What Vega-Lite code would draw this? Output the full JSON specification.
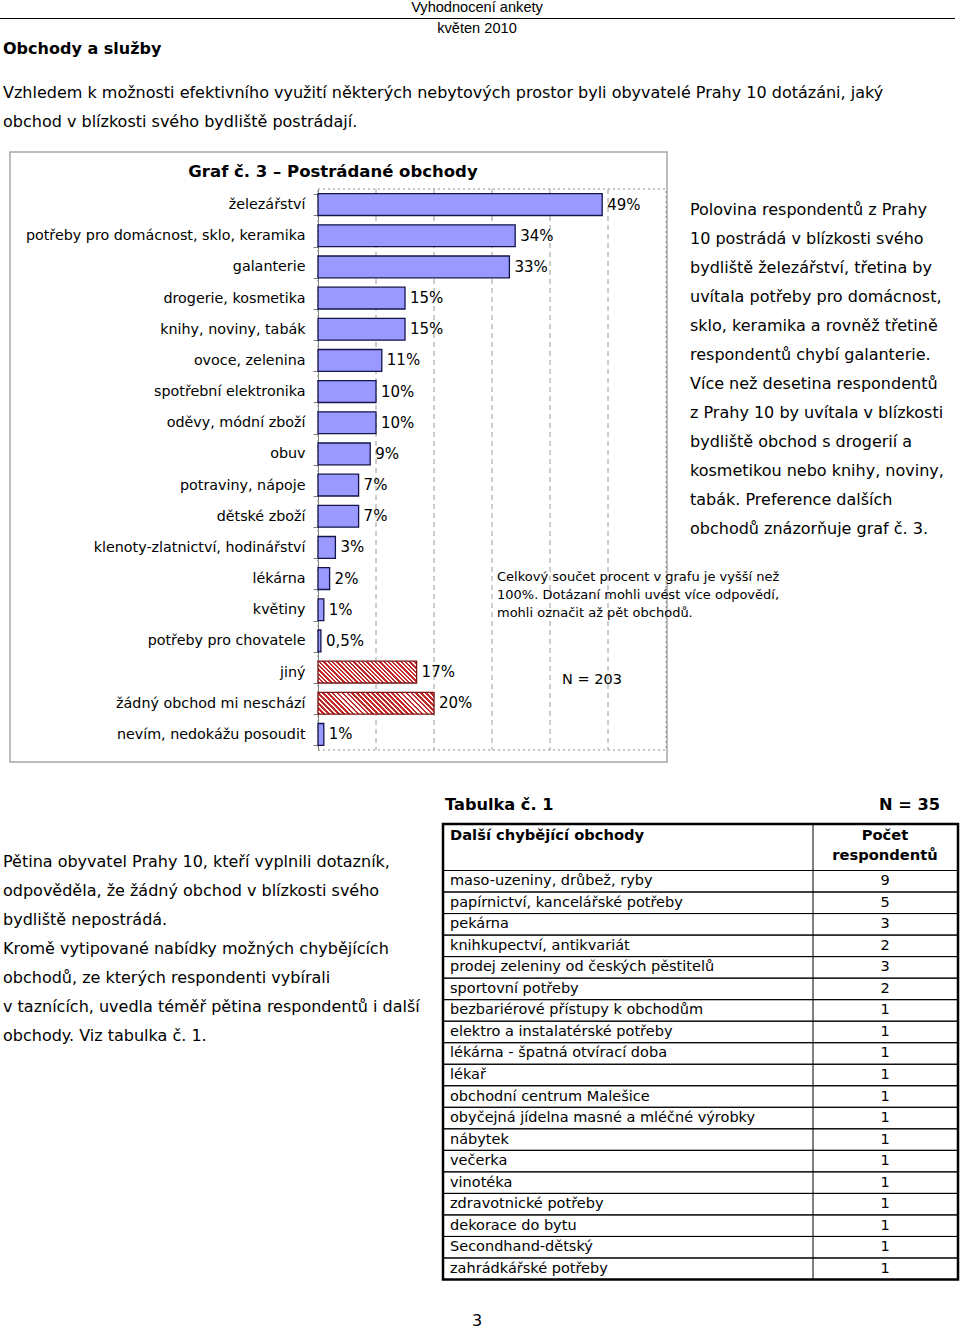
{
  "$schema": "https://vega.github.io/schema/vega-lite/v6.json",
  "width": 960,
  "height": 1329,
  "padding": 0,
  "autosize": {"type": "none"},
  "background": "white",
  "config": {
    "view": {"stroke": null},
    "text": {"font": "DejaVu Sans", "color": "#000000", "baseline": "middle"}
  },
  "datasets": {
    "bars": [
      {"cat": "železářství", "pct": 49, "label": "49%", "grp": "obchod"},
      {"cat": "potřeby pro domácnost, sklo, keramika", "pct": 34, "label": "34%", "grp": "obchod"},
      {"cat": "galanterie", "pct": 33, "label": "33%", "grp": "obchod"},
      {"cat": "drogerie, kosmetika", "pct": 15, "label": "15%", "grp": "obchod"},
      {"cat": "knihy, noviny, tabák", "pct": 15, "label": "15%", "grp": "obchod"},
      {"cat": "ovoce, zelenina", "pct": 11, "label": "11%", "grp": "obchod"},
      {"cat": "spotřební elektronika", "pct": 10, "label": "10%", "grp": "obchod"},
      {"cat": "oděvy, módní zboží", "pct": 10, "label": "10%", "grp": "obchod"},
      {"cat": "obuv", "pct": 9, "label": "9%", "grp": "obchod"},
      {"cat": "potraviny, nápoje", "pct": 7, "label": "7%", "grp": "obchod"},
      {"cat": "dětské zboží", "pct": 7, "label": "7%", "grp": "obchod"},
      {"cat": "klenoty-zlatnictví, hodinářství", "pct": 3, "label": "3%", "grp": "obchod"},
      {"cat": "lékárna", "pct": 2, "label": "2%", "grp": "obchod"},
      {"cat": "květiny", "pct": 1, "label": "1%", "grp": "obchod"},
      {"cat": "potřeby pro chovatele", "pct": 0.5, "label": "0,5%", "grp": "obchod"},
      {"cat": "jiný", "pct": 17, "label": "17%", "grp": "jiné"},
      {"cat": "žádný obchod mi neschází", "pct": 20, "label": "20%", "grp": "jiné"},
      {"cat": "nevím, nedokážu posoudit", "pct": 1, "label": "1%", "grp": "obchod"}
    ],
    "table": [
      {"item": "maso-uzeniny, drůbež, ryby", "n": 9},
      {"item": "papírnictví, kancelářské potřeby", "n": 5},
      {"item": "pekárna", "n": 3},
      {"item": "knihkupectví, antikvariát", "n": 2},
      {"item": "prodej zeleniny od českých pěstitelů", "n": 3},
      {"item": "sportovní potřeby", "n": 2},
      {"item": "bezbariérové přístupy k obchodům", "n": 1},
      {"item": "elektro a instalatérské potřeby", "n": 1},
      {"item": "lékárna - špatná otvírací doba", "n": 1},
      {"item": "lékař", "n": 1},
      {"item": "obchodní centrum Malešice", "n": 1},
      {"item": "obyčejná jídelna masné a mléčné výrobky", "n": 1},
      {"item": "nábytek", "n": 1},
      {"item": "večerka", "n": 1},
      {"item": "vinotéka", "n": 1},
      {"item": "zdravotnické potřeby", "n": 1},
      {"item": "dekorace do bytu", "n": 1},
      {"item": "Secondhand-dětský", "n": 1},
      {"item": "zahrádkářské potřeby", "n": 1}
    ],
    "lines": [
      {"blk": "hdr", "ln": 1, "t": "Vyhodnocení ankety"},
      {"blk": "hdr", "ln": 2, "t": "květen 2010"},
      {"blk": "h1", "ln": 1, "t": "Obchody a služby"},
      {"blk": "p1", "ln": 1, "t": "Vzhledem k možnosti efektivního využití některých nebytových prostor byli obyvatelé Prahy 10 dotázáni, jaký"},
      {"blk": "p1", "ln": 2, "t": "obchod v blízkosti svého bydliště postrádají."},
      {"blk": "gt", "ln": 1, "t": "Graf č. 3 – Postrádané obchody"},
      {"blk": "side", "ln": 1, "t": "Polovina respondentů z Prahy"},
      {"blk": "side", "ln": 2, "t": "10 postrádá v blízkosti svého"},
      {"blk": "side", "ln": 3, "t": "bydliště železářství, třetina by"},
      {"blk": "side", "ln": 4, "t": "uvítala potřeby pro domácnost,"},
      {"blk": "side", "ln": 5, "t": "sklo, keramika a rovněž třetině"},
      {"blk": "side", "ln": 6, "t": "respondentů chybí galanterie."},
      {"blk": "side", "ln": 7, "t": "Více než desetina respondentů"},
      {"blk": "side", "ln": 8, "t": "z Prahy 10 by uvítala v blízkosti"},
      {"blk": "side", "ln": 9, "t": "bydliště obchod s drogerií a"},
      {"blk": "side", "ln": 10, "t": "kosmetikou nebo knihy, noviny,"},
      {"blk": "side", "ln": 11, "t": "tabák. Preference dalších"},
      {"blk": "side", "ln": 12, "t": "obchodů znázorňuje graf č. 3."},
      {"blk": "note", "ln": 1, "t": "Celkový součet procent v grafu je vyšší než"},
      {"blk": "note", "ln": 2, "t": "100%. Dotázaní mohli uvést více odpovědí,"},
      {"blk": "note", "ln": 3, "t": "mohli označit až pět obchodů."},
      {"blk": "n203", "ln": 1, "t": "N = 203"},
      {"blk": "p2", "ln": 1, "t": "Pětina obyvatel Prahy 10, kteří vyplnili dotazník,"},
      {"blk": "p2", "ln": 2, "t": "odpověděla, že žádný obchod v blízkosti svého"},
      {"blk": "p2", "ln": 3, "t": "bydliště nepostrádá."},
      {"blk": "p2", "ln": 4, "t": "Kromě vytipované nabídky možných chybějících"},
      {"blk": "p2", "ln": 5, "t": "obchodů, ze kterých respondenti vybírali"},
      {"blk": "p2", "ln": 6, "t": "v taznících, uvedla téměř pětina respondentů i další"},
      {"blk": "p2", "ln": 7, "t": "obchody. Viz tabulka č. 1."},
      {"blk": "tab", "ln": 1, "t": "Tabulka č. 1"},
      {"blk": "tabn", "ln": 1, "t": "N = 35"},
      {"blk": "th1", "ln": 1, "t": "Další chybějící obchody"},
      {"blk": "th2", "ln": 1, "t": "Počet"},
      {"blk": "th2", "ln": 2, "t": "respondentů"},
      {"blk": "page", "ln": 1, "t": "3"}
    ]
  },
  "layer": [
    {
      "data": {"values": [{}]},
      "mark": {"type": "rule", "stroke": "#000000", "strokeWidth": 1},
      "encoding": {"x": {"value": 0}, "x2": {"value": 955}, "y": {"value": 18.5}}
    },
    {
      "data": {"values": [{}]},
      "mark": {"type": "rect", "fill": "transparent", "stroke": "#a6a6a6", "strokeWidth": 1.5},
      "encoding": {"x": {"value": 10}, "x2": {"value": 667}, "y": {"value": 152}, "y2": {"value": 762}}
    },
    {
      "layer": [
        {
          "data": {"values": [{"g": 10}, {"g": 20}, {"g": 30}, {"g": 40}, {"g": 50}]},
          "mark": {"type": "rule", "stroke": "#9a9a9a", "strokeWidth": 1, "strokeDash": [5, 4]},
          "encoding": {
            "x": {"field": "g", "type": "quantitative", "scale": {"domain": [0, 60], "range": [318, 666], "nice": false, "zero": false}, "axis": null},
            "y": {"value": 189},
            "y2": {"value": 750}
          }
        },
        {
          "data": {"values": [{}]},
          "mark": {"type": "rect", "fill": "transparent", "stroke": "#8c8c8c", "strokeWidth": 1, "strokeDash": [2, 3]},
          "encoding": {
            "x": {"datum": 0, "type": "quantitative", "scale": {"domain": [0, 60], "range": [318, 666], "nice": false, "zero": false}, "axis": null},
            "x2": {"datum": 60},
            "y": {"value": 189},
            "y2": {"value": 750}
          }
        },
        {
          "data": {"name": "bars"},
          "mark": {"type": "bar", "strokeWidth": 1.3},
          "encoding": {
            "x": {"field": "pct", "type": "quantitative", "scale": {"domain": [0, 60], "range": [318, 666], "nice": false, "zero": false}, "axis": null},
            "y": {
              "field": "cat", "type": "nominal", "sort": null,
              "scale": {"range": [189, 750], "paddingInner": 0.3, "paddingOuter": 0.15},
              "axis": {"orient": "left", "offset": -318, "title": null, "domainColor": "#808080", "domainWidth": 1, "ticks": true, "tickColor": "#808080", "tickSize": 5, "tickBand": "extent", "labelPadding": 8, "labelFont": "DejaVu Sans", "labelFontSize": 14.3, "labelColor": "#000000", "labelLimit": 400, "grid": false}
            },
            "fill": {
              "condition": [
                {"test": "datum.cat === 'jiný'", "value": {"gradient": "linear", "x1": 0, "y1": 1, "x2": 1.1643, "y2": 0.7423, "stops": [
                  {"offset": 0, "color": "#c42a2a"}, {"offset": 0.0196, "color": "#c42a2a"}, {"offset": 0.0196, "color": "#ffffff"}, {"offset": 0.0357, "color": "#ffffff"},
                  {"offset": 0.0357, "color": "#c42a2a"}, {"offset": 0.0553, "color": "#c42a2a"}, {"offset": 0.0553, "color": "#ffffff"}, {"offset": 0.0714, "color": "#ffffff"},
                  {"offset": 0.0714, "color": "#c42a2a"}, {"offset": 0.091, "color": "#c42a2a"}, {"offset": 0.091, "color": "#ffffff"}, {"offset": 0.1071, "color": "#ffffff"},
                  {"offset": 0.1071, "color": "#c42a2a"}, {"offset": 0.1267, "color": "#c42a2a"}, {"offset": 0.1267, "color": "#ffffff"}, {"offset": 0.1429, "color": "#ffffff"},
                  {"offset": 0.1429, "color": "#c42a2a"}, {"offset": 0.1625, "color": "#c42a2a"}, {"offset": 0.1625, "color": "#ffffff"}, {"offset": 0.1786, "color": "#ffffff"},
                  {"offset": 0.1786, "color": "#c42a2a"}, {"offset": 0.1982, "color": "#c42a2a"}, {"offset": 0.1982, "color": "#ffffff"}, {"offset": 0.2143, "color": "#ffffff"},
                  {"offset": 0.2143, "color": "#c42a2a"}, {"offset": 0.2339, "color": "#c42a2a"}, {"offset": 0.2339, "color": "#ffffff"}, {"offset": 0.25, "color": "#ffffff"},
                  {"offset": 0.25, "color": "#c42a2a"}, {"offset": 0.2696, "color": "#c42a2a"}, {"offset": 0.2696, "color": "#ffffff"}, {"offset": 0.2857, "color": "#ffffff"},
                  {"offset": 0.2857, "color": "#c42a2a"}, {"offset": 0.3053, "color": "#c42a2a"}, {"offset": 0.3053, "color": "#ffffff"}, {"offset": 0.3214, "color": "#ffffff"},
                  {"offset": 0.3214, "color": "#c42a2a"}, {"offset": 0.341, "color": "#c42a2a"}, {"offset": 0.341, "color": "#ffffff"}, {"offset": 0.3571, "color": "#ffffff"},
                  {"offset": 0.3571, "color": "#c42a2a"}, {"offset": 0.3767, "color": "#c42a2a"}, {"offset": 0.3767, "color": "#ffffff"}, {"offset": 0.3929, "color": "#ffffff"},
                  {"offset": 0.3929, "color": "#c42a2a"}, {"offset": 0.4125, "color": "#c42a2a"}, {"offset": 0.4125, "color": "#ffffff"}, {"offset": 0.4286, "color": "#ffffff"},
                  {"offset": 0.4286, "color": "#c42a2a"}, {"offset": 0.4482, "color": "#c42a2a"}, {"offset": 0.4482, "color": "#ffffff"}, {"offset": 0.4643, "color": "#ffffff"},
                  {"offset": 0.4643, "color": "#c42a2a"}, {"offset": 0.4839, "color": "#c42a2a"}, {"offset": 0.4839, "color": "#ffffff"}, {"offset": 0.5, "color": "#ffffff"},
                  {"offset": 0.5, "color": "#c42a2a"}, {"offset": 0.5196, "color": "#c42a2a"}, {"offset": 0.5196, "color": "#ffffff"}, {"offset": 0.5357, "color": "#ffffff"},
                  {"offset": 0.5357, "color": "#c42a2a"}, {"offset": 0.5553, "color": "#c42a2a"}, {"offset": 0.5553, "color": "#ffffff"}, {"offset": 0.5714, "color": "#ffffff"},
                  {"offset": 0.5714, "color": "#c42a2a"}, {"offset": 0.591, "color": "#c42a2a"}, {"offset": 0.591, "color": "#ffffff"}, {"offset": 0.6071, "color": "#ffffff"},
                  {"offset": 0.6071, "color": "#c42a2a"}, {"offset": 0.6267, "color": "#c42a2a"}, {"offset": 0.6267, "color": "#ffffff"}, {"offset": 0.6429, "color": "#ffffff"},
                  {"offset": 0.6429, "color": "#c42a2a"}, {"offset": 0.6625, "color": "#c42a2a"}, {"offset": 0.6625, "color": "#ffffff"}, {"offset": 0.6786, "color": "#ffffff"},
                  {"offset": 0.6786, "color": "#c42a2a"}, {"offset": 0.6982, "color": "#c42a2a"}, {"offset": 0.6982, "color": "#ffffff"}, {"offset": 0.7143, "color": "#ffffff"},
                  {"offset": 0.7143, "color": "#c42a2a"}, {"offset": 0.7339, "color": "#c42a2a"}, {"offset": 0.7339, "color": "#ffffff"}, {"offset": 0.75, "color": "#ffffff"},
                  {"offset": 0.75, "color": "#c42a2a"}, {"offset": 0.7696, "color": "#c42a2a"}, {"offset": 0.7696, "color": "#ffffff"}, {"offset": 0.7857, "color": "#ffffff"},
                  {"offset": 0.7857, "color": "#c42a2a"}, {"offset": 0.8053, "color": "#c42a2a"}, {"offset": 0.8053, "color": "#ffffff"}, {"offset": 0.8214, "color": "#ffffff"},
                  {"offset": 0.8214, "color": "#c42a2a"}, {"offset": 0.841, "color": "#c42a2a"}, {"offset": 0.841, "color": "#ffffff"}, {"offset": 0.8571, "color": "#ffffff"},
                  {"offset": 0.8571, "color": "#c42a2a"}, {"offset": 0.8767, "color": "#c42a2a"}, {"offset": 0.8767, "color": "#ffffff"}, {"offset": 0.8929, "color": "#ffffff"},
                  {"offset": 0.8929, "color": "#c42a2a"}, {"offset": 0.9125, "color": "#c42a2a"}, {"offset": 0.9125, "color": "#ffffff"}, {"offset": 0.9286, "color": "#ffffff"},
                  {"offset": 0.9286, "color": "#c42a2a"}, {"offset": 0.9482, "color": "#c42a2a"}, {"offset": 0.9482, "color": "#ffffff"}, {"offset": 0.9643, "color": "#ffffff"},
                  {"offset": 0.9643, "color": "#c42a2a"}, {"offset": 0.9839, "color": "#c42a2a"}, {"offset": 0.9839, "color": "#ffffff"}, {"offset": 1, "color": "#ffffff"}
                ]}},
                {"test": "datum.cat === 'žádný obchod mi neschází'", "value": {"gradient": "linear", "x1": 0, "y1": 1, "x2": 1.1475, "y2": 0.7842, "stops": [
                  {"offset": 0, "color": "#c42a2a"}, {"offset": 0.0196, "color": "#c42a2a"}, {"offset": 0.0196, "color": "#ffffff"}, {"offset": 0.0357, "color": "#ffffff"},
                  {"offset": 0.0357, "color": "#c42a2a"}, {"offset": 0.0553, "color": "#c42a2a"}, {"offset": 0.0553, "color": "#ffffff"}, {"offset": 0.0714, "color": "#ffffff"},
                  {"offset": 0.0714, "color": "#c42a2a"}, {"offset": 0.091, "color": "#c42a2a"}, {"offset": 0.091, "color": "#ffffff"}, {"offset": 0.1071, "color": "#ffffff"},
                  {"offset": 0.1071, "color": "#c42a2a"}, {"offset": 0.1267, "color": "#c42a2a"}, {"offset": 0.1267, "color": "#ffffff"}, {"offset": 0.1429, "color": "#ffffff"},
                  {"offset": 0.1429, "color": "#c42a2a"}, {"offset": 0.1625, "color": "#c42a2a"}, {"offset": 0.1625, "color": "#ffffff"}, {"offset": 0.1786, "color": "#ffffff"},
                  {"offset": 0.1786, "color": "#c42a2a"}, {"offset": 0.1982, "color": "#c42a2a"}, {"offset": 0.1982, "color": "#ffffff"}, {"offset": 0.2143, "color": "#ffffff"},
                  {"offset": 0.2143, "color": "#c42a2a"}, {"offset": 0.2339, "color": "#c42a2a"}, {"offset": 0.2339, "color": "#ffffff"}, {"offset": 0.25, "color": "#ffffff"},
                  {"offset": 0.25, "color": "#c42a2a"}, {"offset": 0.2696, "color": "#c42a2a"}, {"offset": 0.2696, "color": "#ffffff"}, {"offset": 0.2857, "color": "#ffffff"},
                  {"offset": 0.2857, "color": "#c42a2a"}, {"offset": 0.3053, "color": "#c42a2a"}, {"offset": 0.3053, "color": "#ffffff"}, {"offset": 0.3214, "color": "#ffffff"},
                  {"offset": 0.3214, "color": "#c42a2a"}, {"offset": 0.341, "color": "#c42a2a"}, {"offset": 0.341, "color": "#ffffff"}, {"offset": 0.3571, "color": "#ffffff"},
                  {"offset": 0.3571, "color": "#c42a2a"}, {"offset": 0.3767, "color": "#c42a2a"}, {"offset": 0.3767, "color": "#ffffff"}, {"offset": 0.3929, "color": "#ffffff"},
                  {"offset": 0.3929, "color": "#c42a2a"}, {"offset": 0.4125, "color": "#c42a2a"}, {"offset": 0.4125, "color": "#ffffff"}, {"offset": 0.4286, "color": "#ffffff"},
                  {"offset": 0.4286, "color": "#c42a2a"}, {"offset": 0.4482, "color": "#c42a2a"}, {"offset": 0.4482, "color": "#ffffff"}, {"offset": 0.4643, "color": "#ffffff"},
                  {"offset": 0.4643, "color": "#c42a2a"}, {"offset": 0.4839, "color": "#c42a2a"}, {"offset": 0.4839, "color": "#ffffff"}, {"offset": 0.5, "color": "#ffffff"},
                  {"offset": 0.5, "color": "#c42a2a"}, {"offset": 0.5196, "color": "#c42a2a"}, {"offset": 0.5196, "color": "#ffffff"}, {"offset": 0.5357, "color": "#ffffff"},
                  {"offset": 0.5357, "color": "#c42a2a"}, {"offset": 0.5553, "color": "#c42a2a"}, {"offset": 0.5553, "color": "#ffffff"}, {"offset": 0.5714, "color": "#ffffff"},
                  {"offset": 0.5714, "color": "#c42a2a"}, {"offset": 0.591, "color": "#c42a2a"}, {"offset": 0.591, "color": "#ffffff"}, {"offset": 0.6071, "color": "#ffffff"},
                  {"offset": 0.6071, "color": "#c42a2a"}, {"offset": 0.6267, "color": "#c42a2a"}, {"offset": 0.6267, "color": "#ffffff"}, {"offset": 0.6429, "color": "#ffffff"},
                  {"offset": 0.6429, "color": "#c42a2a"}, {"offset": 0.6625, "color": "#c42a2a"}, {"offset": 0.6625, "color": "#ffffff"}, {"offset": 0.6786, "color": "#ffffff"},
                  {"offset": 0.6786, "color": "#c42a2a"}, {"offset": 0.6982, "color": "#c42a2a"}, {"offset": 0.6982, "color": "#ffffff"}, {"offset": 0.7143, "color": "#ffffff"},
                  {"offset": 0.7143, "color": "#c42a2a"}, {"offset": 0.7339, "color": "#c42a2a"}, {"offset": 0.7339, "color": "#ffffff"}, {"offset": 0.75, "color": "#ffffff"},
                  {"offset": 0.75, "color": "#c42a2a"}, {"offset": 0.7696, "color": "#c42a2a"}, {"offset": 0.7696, "color": "#ffffff"}, {"offset": 0.7857, "color": "#ffffff"},
                  {"offset": 0.7857, "color": "#c42a2a"}, {"offset": 0.8053, "color": "#c42a2a"}, {"offset": 0.8053, "color": "#ffffff"}, {"offset": 0.8214, "color": "#ffffff"},
                  {"offset": 0.8214, "color": "#c42a2a"}, {"offset": 0.841, "color": "#c42a2a"}, {"offset": 0.841, "color": "#ffffff"}, {"offset": 0.8571, "color": "#ffffff"},
                  {"offset": 0.8571, "color": "#c42a2a"}, {"offset": 0.8767, "color": "#c42a2a"}, {"offset": 0.8767, "color": "#ffffff"}, {"offset": 0.8929, "color": "#ffffff"},
                  {"offset": 0.8929, "color": "#c42a2a"}, {"offset": 0.9125, "color": "#c42a2a"}, {"offset": 0.9125, "color": "#ffffff"}, {"offset": 0.9286, "color": "#ffffff"},
                  {"offset": 0.9286, "color": "#c42a2a"}, {"offset": 0.9482, "color": "#c42a2a"}, {"offset": 0.9482, "color": "#ffffff"}, {"offset": 0.9643, "color": "#ffffff"},
                  {"offset": 0.9643, "color": "#c42a2a"}, {"offset": 0.9839, "color": "#c42a2a"}, {"offset": 0.9839, "color": "#ffffff"}, {"offset": 1, "color": "#ffffff"}
                ]}}
              ],
              "value": "#9999ff"
            },
            "stroke": {"condition": {"test": "datum.grp === 'jiné'", "value": "#7a1414"}, "value": "#14144a"}
          }
        },
        {
          "data": {"name": "bars"},
          "mark": {"type": "text", "align": "left", "dx": 5, "fontSize": 15},
          "encoding": {
            "x": {"field": "pct", "type": "quantitative", "scale": {"domain": [0, 60], "range": [318, 666], "nice": false, "zero": false}, "axis": null},
            "y": {
              "field": "cat", "type": "nominal", "sort": null,
              "scale": {"range": [189, 750], "paddingInner": 0.3, "paddingOuter": 0.15},
              "axis": {"orient": "left", "offset": -318, "title": null, "domainColor": "#808080", "domainWidth": 1, "ticks": true, "tickColor": "#808080", "tickSize": 5, "tickBand": "extent", "labelPadding": 8, "labelFont": "DejaVu Sans", "labelFontSize": 14.3, "labelColor": "#000000", "labelLimit": 400, "grid": false}
            },
            "text": {"field": "label"}
          }
        }
      ]
    },
    {
      "data": {"values": [{}]},
      "mark": {"type": "rect", "fill": "transparent", "stroke": "#000000", "strokeWidth": 1},
      "encoding": {"x": {"value": 443}, "x2": {"value": 958}, "y": {"value": 824}, "y2": {"value": 870.5}}
    },
    {
      "data": {"values": [{}]},
      "mark": {"type": "rule", "stroke": "#000000", "strokeWidth": 1},
      "encoding": {"x": {"value": 813}, "y": {"value": 824}, "y2": {"value": 1279.5}}
    },
    {
      "data": {"name": "table"},
      "layer": [
        {
          "mark": {"type": "rect", "fill": "transparent", "stroke": "#000000", "strokeWidth": 1},
          "encoding": {
            "x": {"value": 443}, "x2": {"value": 958},
            "y": {"field": "item", "type": "nominal", "sort": null, "scale": {"range": [870.5, 1279.5], "paddingInner": 0, "paddingOuter": 0}, "axis": null}
          }
        },
        {
          "mark": {"type": "text", "align": "left", "fontSize": 14.5},
          "encoding": {
            "x": {"value": 450},
            "y": {"field": "item", "type": "nominal", "sort": null, "scale": {"range": [870.5, 1279.5], "paddingInner": 0, "paddingOuter": 0}, "axis": null},
            "text": {"field": "item"}
          }
        },
        {
          "mark": {"type": "text", "align": "center", "fontSize": 14.5},
          "encoding": {
            "x": {"value": 885},
            "y": {"field": "item", "type": "nominal", "sort": null, "scale": {"range": [870.5, 1279.5], "paddingInner": 0, "paddingOuter": 0}, "axis": null},
            "text": {"field": "n"}
          }
        }
      ]
    },
    {
      "data": {"values": [{}]},
      "mark": {"type": "rect", "fill": "transparent", "stroke": "#000000", "strokeWidth": 2.5},
      "encoding": {"x": {"value": 443}, "x2": {"value": 958}, "y": {"value": 824}, "y2": {"value": 1279.5}}
    },
    {
      "data": {"name": "lines"},
      "transform": [{"filter": "datum.blk === 'hdr'"}],
      "mark": {"type": "text", "align": "center", "font": "Liberation Sans", "fontSize": 14.6},
      "encoding": {"x": {"value": 477}, "y": {"field": "ln", "type": "quantitative", "scale": {"domain": [1, 2], "range": [8, 29], "nice": false, "zero": false}, "axis": null}, "text": {"field": "t"}}
    },
    {
      "data": {"name": "lines"},
      "transform": [{"filter": "datum.blk === 'h1'"}],
      "mark": {"type": "text", "align": "left", "fontWeight": "bold", "fontSize": 16},
      "encoding": {"x": {"value": 3}, "y": {"field": "ln", "type": "quantitative", "scale": {"domain": [0, 2], "range": [29, 69], "nice": false, "zero": false}, "axis": null}, "text": {"field": "t"}}
    },
    {
      "data": {"name": "lines"},
      "transform": [{"filter": "datum.blk === 'p1'"}],
      "mark": {"type": "text", "align": "left", "fontSize": 16},
      "encoding": {"x": {"value": 3}, "y": {"field": "ln", "type": "quantitative", "scale": {"domain": [1, 2], "range": [93, 122], "nice": false, "zero": false}, "axis": null}, "text": {"field": "t"}}
    },
    {
      "data": {"name": "lines"},
      "transform": [{"filter": "datum.blk === 'gt'"}],
      "mark": {"type": "text", "align": "center", "fontWeight": "bold", "fontSize": 16.5},
      "encoding": {"x": {"value": 333}, "y": {"field": "ln", "type": "quantitative", "scale": {"domain": [0, 2], "range": [152, 192], "nice": false, "zero": false}, "axis": null}, "text": {"field": "t"}}
    },
    {
      "data": {"name": "lines"},
      "transform": [{"filter": "datum.blk === 'side'"}],
      "mark": {"type": "text", "align": "left", "fontSize": 16},
      "encoding": {"x": {"value": 690}, "y": {"field": "ln", "type": "quantitative", "scale": {"domain": [1, 12], "range": [210, 529], "nice": false, "zero": false}, "axis": null}, "text": {"field": "t"}}
    },
    {
      "data": {"name": "lines"},
      "transform": [{"filter": "datum.blk === 'note'"}],
      "mark": {"type": "text", "align": "left", "fontSize": 13},
      "encoding": {"x": {"value": 497}, "y": {"field": "ln", "type": "quantitative", "scale": {"domain": [1, 3], "range": [577, 613], "nice": false, "zero": false}, "axis": null}, "text": {"field": "t"}}
    },
    {
      "data": {"name": "lines"},
      "transform": [{"filter": "datum.blk === 'n203'"}],
      "mark": {"type": "text", "align": "center", "fontSize": 14.5},
      "encoding": {"x": {"value": 592}, "y": {"field": "ln", "type": "quantitative", "scale": {"domain": [0, 2], "range": [660, 700], "nice": false, "zero": false}, "axis": null}, "text": {"field": "t"}}
    },
    {
      "data": {"name": "lines"},
      "transform": [{"filter": "datum.blk === 'p2'"}],
      "mark": {"type": "text", "align": "left", "fontSize": 16},
      "encoding": {"x": {"value": 3}, "y": {"field": "ln", "type": "quantitative", "scale": {"domain": [1, 7], "range": [862, 1036], "nice": false, "zero": false}, "axis": null}, "text": {"field": "t"}}
    },
    {
      "data": {"name": "lines"},
      "transform": [{"filter": "datum.blk === 'tab'"}],
      "mark": {"type": "text", "align": "left", "fontWeight": "bold", "fontSize": 16.2},
      "encoding": {"x": {"value": 445}, "y": {"field": "ln", "type": "quantitative", "scale": {"domain": [0, 2], "range": [785, 825], "nice": false, "zero": false}, "axis": null}, "text": {"field": "t"}}
    },
    {
      "data": {"name": "lines"},
      "transform": [{"filter": "datum.blk === 'tabn'"}],
      "mark": {"type": "text", "align": "right", "fontWeight": "bold", "fontSize": 16.2},
      "encoding": {"x": {"value": 940}, "y": {"field": "ln", "type": "quantitative", "scale": {"domain": [0, 2], "range": [785, 825], "nice": false, "zero": false}, "axis": null}, "text": {"field": "t"}}
    },
    {
      "data": {"name": "lines"},
      "transform": [{"filter": "datum.blk === 'th1'"}],
      "mark": {"type": "text", "align": "left", "fontWeight": "bold", "fontSize": 14.7},
      "encoding": {"x": {"value": 450}, "y": {"field": "ln", "type": "quantitative", "scale": {"domain": [0, 2], "range": [816, 856], "nice": false, "zero": false}, "axis": null}, "text": {"field": "t"}}
    },
    {
      "data": {"name": "lines"},
      "transform": [{"filter": "datum.blk === 'th2'"}],
      "mark": {"type": "text", "align": "center", "fontWeight": "bold", "fontSize": 14.7},
      "encoding": {"x": {"value": 885}, "y": {"field": "ln", "type": "quantitative", "scale": {"domain": [1, 2], "range": [836, 856], "nice": false, "zero": false}, "axis": null}, "text": {"field": "t"}}
    },
    {
      "data": {"name": "lines"},
      "transform": [{"filter": "datum.blk === 'page'"}],
      "mark": {"type": "text", "align": "center", "fontSize": 16},
      "encoding": {"x": {"value": 477}, "y": {"field": "ln", "type": "quantitative", "scale": {"domain": [0, 2], "range": [1301, 1341], "nice": false, "zero": false}, "axis": null}, "text": {"field": "t"}}
    }
  ],
  "resolve": {"scale": {"x": "independent", "y": "independent"}}
}
